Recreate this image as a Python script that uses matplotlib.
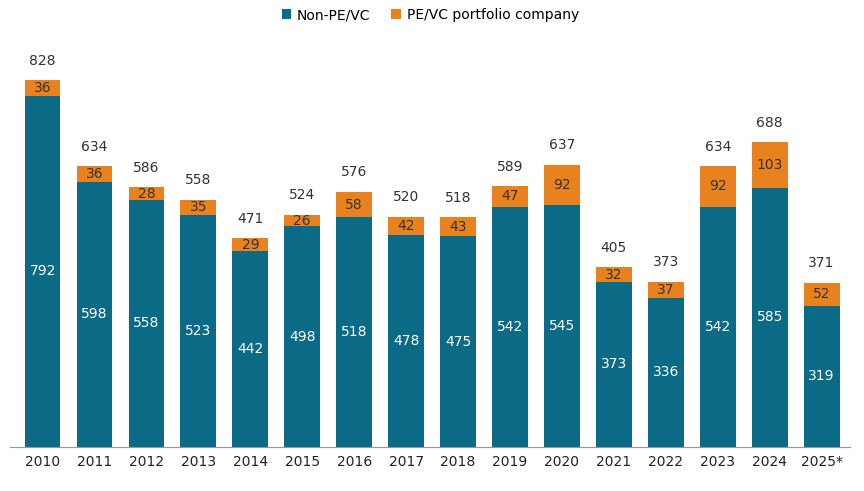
import matplotlib
matplotlib.use("Agg")
import matplotlib.pyplot as plt
import numpy as np

years = ["2010","2011","2012","2013","2014","2015","2016","2017","2018","2019","2020","2021","2022","2023","2024","2025*"]
non_pe = [792,598,558,523,442,498,518,478,475,542,545,373,336,542,585,319]
pe = [36,36,28,35,29,26,58,42,43,47,92,32,37,92,103,52]
totals = [828,634,586,558,471,524,576,520,518,589,637,405,373,634,688,371]

teal = "#0b6a85"
orange = "#e8821e"

fig = plt.figure(figsize=(8.64,4.91), dpi=100)
ax = fig.add_axes([0.012, 0.09, 0.972, 0.91])
x = np.arange(len(years))
w = 0.69
ax.bar(x, non_pe, w, color=teal, label="Non-PE/VC")
ax.bar(x, pe, w, bottom=non_pe, color=orange, label="PE/VC portfolio company")
for i in x:
    ax.text(i, non_pe[i]/2, str(non_pe[i]), ha="center", va="center", color="white", fontsize=10)
    ax.text(i, non_pe[i]+pe[i]/2, str(pe[i]), ha="center", va="center", color="#333333", fontsize=10)
    ax.text(i, totals[i]+28, str(totals[i]), ha="center", va="bottom", color="#333333", fontsize=10)
ax.set_xlim(-0.62, 15.55)
ax.set_ylim(0, 1009)
ax.set_xticks(x)
ax.set_xticklabels(years, fontsize=10, color="#222222")
ax.set_yticks([])
for s in ["top","right","left"]:
    ax.spines[s].set_visible(False)
ax.spines["bottom"].set_color("#999999")
ax.tick_params(axis="x", length=0, pad=6)
ax.legend(loc="upper center", bbox_to_anchor=(0.5, 1.01), ncol=2, frameon=False,
          fontsize=10, handlelength=0.7, handleheight=0.7, columnspacing=1.5, handletextpad=0.4)
fig.savefig("out.png", dpi=100)
